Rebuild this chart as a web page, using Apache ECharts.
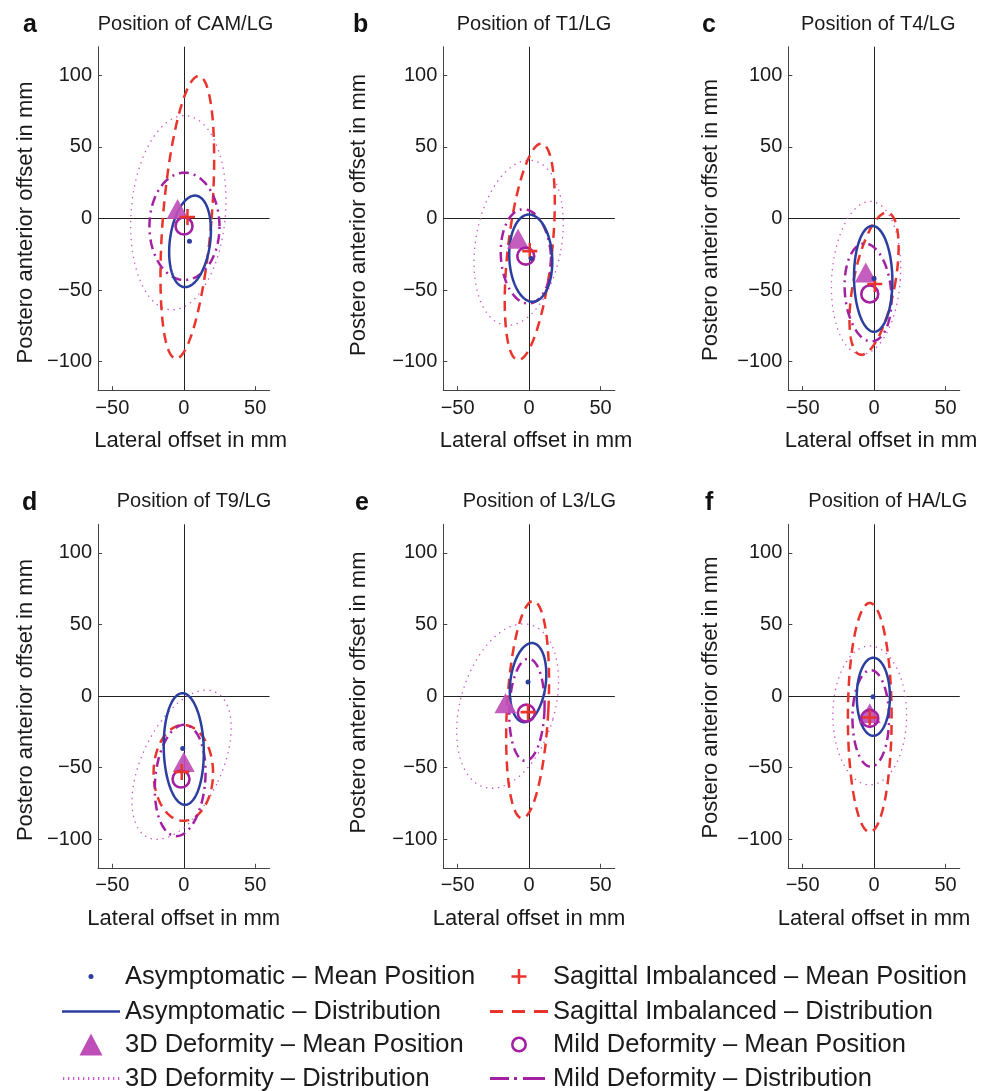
<!DOCTYPE html>
<html>
<head>
<meta charset="utf-8">
<title>Position of vertebrae relative to LG</title>
<script src="https://cdn.jsdelivr.net/npm/echarts@6/dist/echarts.min.js"></script>
<style>
  html, body { margin: 0; padding: 0; background: #fff; }
  #chart { width: 989px; height: 1091px; }
</style>
</head>
<body>
<div id="chart"></div>
<script>
// panels
const panelNames = ['CAM/LG', 'T1/LG', 'T4/LG', 'T9/LG', 'L3/LG', 'HA/LG'];
const panelLetters = ['a', 'b', 'c', 'd', 'e', 'f'];
const xTicks = [-50, 0, 50];
const yTicks = [-100, -50, 0, 50, 100];

// mean positions [lateral, postero anterior] in mm
const asymMean = [[4, -16], [1.5, -28], [0, -42], [-0.7, -36.7], [-0.7, 9.8], [-0.7, -0.5]];
const sagMean = [[2.6, 1], [0.5, -22.8], [0.5, -45.8], [-1.4, -53], [-0.7, -11.2], [-3, -15]];
const defMean = [[-4.3, 6.6], [-7.7, -14.2], [-5.8, -37.7], [0, -46], [-16.5, -5], [-3, -12]];
const mildMean = [[0.2, -5.3], [-2.3, -26.3], [-3, -52.8], [-1.9, -58], [-1.9, -11.9], [-3, -15.6]];

// distributions: [centre x, centre y, long semi axis, short semi axis, tilt in deg]
const asymDist = [[4.4, -16, 32.2, 14.1, 7.6], [1.2, -27.7, 30.5, 15, -3], [-0.6, -42.2, 37, 13.4, -1], [0, -37, 39, 14, -1.5], [-0.7, 9.4, 27.8, 12.4, 7], [-0.5, -0.5, 27.3, 11.6, 0]];
const sagDist = [[2.5, 0.8, 99, 17, 4.7], [0.5, -23.3, 76, 15.5, 6.3], [0, -45.6, 50.5, 14.5, 11], [-0.3, -53.7, 33.5, 20.8, 0], [-1, -9.5, 76, 14.5, 3], [-3, -15, 80, 15.3, 0]];
const defDist = [[-3.8, 4, 68, 33, 4.8], [-7.3, -17, 58.3, 30, 10], [-5.6, -41.5, 53.5, 24, 4], [-1.5, -48, 56, 28, 25], [-15, -7, 59, 33, 16], [-3, -13.5, 48.5, 25.8, 0]];
const mildDist = [[0.5, -5.5, 37.5, 24.5, 0], [-2.2, -26.5, 33, 17.5, -4], [-4.2, -51.7, 34.3, 16.2, -5], [-2.5, -59, 39, 17.5, 5], [-1.5, -9.6, 35.7, 12.3, 2], [-2.3, -15.6, 33.7, 12.8, 0]];

const FONT = 'Liberation Sans, Arial, Helvetica, sans-serif';
const TXT = '#1a1a1a';
const BLUE = '#2c3f9f';
const RED = '#e8342c';
const PINK = '#d055d0';
const TRI = '#bf4fb8';
const PURPLE = '#a320a3';

const gridLeft = [98, 443.3, 788.3];
const gridTop = [46.7, 524.3];
const titleLeft = [97.7, 456.7, 801, 116.7, 462.7, 808.3];
const letterLeft = [23, 353, 702, 22, 355, 705];
const yNameGap = [61, 73, 66];
const yNamePad = [[0, 8, 0, 0], [0, 0, 0, 7], [0, 3, 0, 0]];

const names = {
  asymMean: 'Asymptomatic \u2013 Mean Position',
  asymDist: 'Asymptomatic \u2013 Distribution',
  defMean: '3D Deformity \u2013 Mean Position',
  defDist: '3D Deformity \u2013 Distribution',
  sagMean: 'Sagittal Imbalanced \u2013 Mean Position',
  sagDist: 'Sagittal Imbalanced \u2013 Distribution',
  mildMean: 'Mild Deformity \u2013 Mean Position',
  mildDist: 'Mild Deformity \u2013 Distribution'
};

function tickFmt(v) {
  return v < 0 ? '\u2212' + Math.abs(v) : String(v);
}

// ellipse outline through the axis scales
function ellipseRender(style) {
  return function (params, api) {
    const cx = api.value(0), cy = api.value(1), a = api.value(2), b = api.value(3);
    const t = api.value(4) * Math.PI / 180;
    const pts = [];
    for (let k = 0; k <= 180; k++) {
      const th = 2 * Math.PI * k / 180;
      const u = b * Math.cos(th), v = a * Math.sin(th);
      pts.push(api.coord([cx + u * Math.cos(t) + v * Math.sin(t), cy - u * Math.sin(t) + v * Math.cos(t)]));
    }
    return {
      type: 'polyline',
      shape: { points: pts },
      style: Object.assign({ fill: null }, style),
      silent: true
    };
  };
}

// legend icons, drawn in a 58x22 box
const BOX = 'path://M0 0M58 22';
let dots = '';
for (let x = 1; x < 58; x += 5) {
  dots += 'M' + x + ' 9.5h1.3v3h-1.3Z';
}
const icons = {
  asymMean: BOX + 'M26.5 11a2.5 2.5 0 1 0 5 0a2.5 2.5 0 1 0 -5 0Z',
  asymDist: BOX + 'M0 9.7h58v2.6h-58Z',
  defMean: BOX + 'M29 0L40.5 22L17.5 22Z',
  defDist: BOX + dots,
  sagMean: BOX + 'M21.5 9.8h15v2.5h-15Z M27.75 3.5h2.5v15h-2.5Z',
  sagDist: BOX + 'M0 9.6h13v2.8h-13Z M22 9.6h13v2.8h-13Z M44 9.6h14v2.8h-14Z',
  mildMean: BOX + 'M21 11a8 8 0 1 0 16 0a8 8 0 1 0 -16 0Z M23.6 11a5.4 5.4 0 1 1 10.8 0a5.4 5.4 0 1 1 -10.8 0Z',
  mildDist: BOX + 'M0 9.6h19v2.8h-19Z M24 9.6h3v2.8h-3Z M33 9.6h22v2.8h-22Z'
};
const iconColor = {
  asymMean: BLUE, asymDist: BLUE, defMean: TRI, defDist: PINK,
  sagMean: RED, sagDist: RED, mildMean: PURPLE, mildDist: PURPLE
};

// legend: two columns of four rows
const legendCols = [['asymMean', 'asymDist', 'defMean', 'defDist'], ['sagMean', 'sagDist', 'mildMean', 'mildDist']];
const legendLeft = [62, 490];
const legendTop = [963.5, 998.5, 1031.5, 1065.5];

let legends = [];
legendCols.forEach((keys, c) => {
  keys.forEach((k, r) => {
    legends.push({
      left: legendLeft[c], top: legendTop[r], padding: 0,
      itemWidth: 58, itemHeight: 22, selectedMode: false,
      textStyle: { fontSize: 25.5, color: TXT, fontFamily: FONT },
      data: [{ name: names[k], icon: icons[k], itemStyle: { color: iconColor[k], borderWidth: 0, opacity: 1 } }]
    });
  });
});

let grids = [], xAxes = [], yAxes = [], series = [], titles = [];

for (let i = 0; i < 6; i++) {
  const row = Math.floor(i / 3), col = i % 3;
  grids.push({
    left: gridLeft[col], top: gridTop[row], width: 171.5, height: 343.5,
    containLabel: false, outerBoundsMode: 'none'
  });
  xAxes.push({
    gridIndex: i, type: 'value', min: -60, max: 60,
    axisLine: { onZero: false, lineStyle: { color: '#444', width: 1 } },
    axisTick: { inside: true, length: 4, customValues: xTicks, lineStyle: { color: '#444' } },
    axisLabel: { customValues: xTicks, margin: 8, fontSize: 20, color: TXT, fontFamily: FONT, formatter: tickFmt },
    splitLine: { show: false },
    name: 'Lateral offset in mm', nameLocation: 'middle', nameGap: 40,
    nameTextStyle: { fontSize: 22, color: TXT, fontFamily: FONT, padding: row === 0 ? [0, 0, 0, 14] : 0 }
  });
  yAxes.push({
    gridIndex: i, type: 'value', min: -120, max: 120,
    axisLine: { onZero: false, lineStyle: { color: '#444', width: 1 } },
    axisTick: { inside: true, length: 4, customValues: yTicks, lineStyle: { color: '#444' } },
    axisLabel: { customValues: yTicks, margin: 6, fontSize: 20, color: TXT, fontFamily: FONT, formatter: tickFmt },
    splitLine: { show: false },
    name: 'Postero anterior offset in mm', nameLocation: 'middle', nameGap: yNameGap[col],
    nameTextStyle: { fontSize: 22, color: TXT, fontFamily: FONT, padding: yNamePad[col] }
  });

  titles.push({
    text: 'Position of ' + panelNames[i], left: titleLeft[i], top: row === 0 ? 14 : 491.7, padding: 0,
    textStyle: { fontSize: 20, fontWeight: 'normal', color: TXT, fontFamily: FONT }
  });
  titles.push({
    text: panelLetters[i], left: letterLeft[i], top: row === 0 ? 12.3 : 491, padding: 0,
    textStyle: { fontSize: 25, fontWeight: 'bold', color: '#111', fontFamily: FONT }
  });

  const ax = { xAxisIndex: i, yAxisIndex: i };
  series.push(Object.assign({
    type: 'custom', name: names.defDist, data: [defDist[i]], itemStyle: { color: PINK },
    renderItem: ellipseRender({ stroke: PINK, lineWidth: 1.3, lineDash: [1.4, 4.6] })
  }, ax));
  series.push(Object.assign({
    type: 'custom', name: names.sagDist, data: [sagDist[i]], itemStyle: { color: RED },
    renderItem: ellipseRender({ stroke: RED, lineWidth: 2.5, lineDash: [10, 6.5] })
  }, ax));
  series.push(Object.assign({
    type: 'custom', name: names.mildDist, data: [mildDist[i]], itemStyle: { color: PURPLE },
    renderItem: ellipseRender({ stroke: PURPLE, lineWidth: 2.5, lineDash: [10, 5, 2, 5] })
  }, ax));
  series.push(Object.assign({
    type: 'custom', name: names.asymDist, data: [asymDist[i]], itemStyle: { color: BLUE },
    renderItem: ellipseRender({ stroke: BLUE, lineWidth: 2.5 })
  }, ax));
  series.push(Object.assign({
    type: 'scatter', name: names.defMean, data: [defMean[i]],
    symbol: 'triangle', symbolSize: [22, 20], itemStyle: { color: TRI, opacity: 0.92 }
  }, ax));
  series.push(Object.assign({
    type: 'scatter', name: names.mildMean, data: [mildMean[i]],
    symbol: 'circle', symbolSize: 17,
    itemStyle: { color: 'rgba(0,0,0,0)', borderColor: PURPLE, borderWidth: 2.6, opacity: 1 }
  }, ax));
  series.push(Object.assign({
    type: 'scatter', name: names.sagMean, data: [sagMean[i]],
    symbol: 'path://M0,6.25H15V8.75H0Z M6.25,0H8.75V15H6.25Z', symbolSize: [15, 16],
    itemStyle: { color: RED, opacity: 1 }
  }, ax));
  series.push(Object.assign({
    type: 'scatter', name: names.asymMean, data: [asymMean[i]],
    symbol: 'circle', symbolSize: 5, itemStyle: { color: BLUE, opacity: 1 },
    markLine: {
      silent: true, z: 1, symbol: ['none', 'none'], animation: false,
      label: { show: false },
      lineStyle: { color: '#222', width: 1, type: 'solid' },
      emphasis: { disabled: true },
      data: [{ xAxis: 0 }, { yAxis: 0 }]
    }
  }, ax));
}

const option = {
  backgroundColor: '#fff',
  animation: false,
  title: titles,
  grid: grids,
  xAxis: xAxes,
  yAxis: yAxes,
  legend: legends,
  series: series
};

const chart = echarts.init(document.getElementById('chart'), null, { renderer: 'canvas' });
chart.setOption(option);
</script>
</body>
</html>
